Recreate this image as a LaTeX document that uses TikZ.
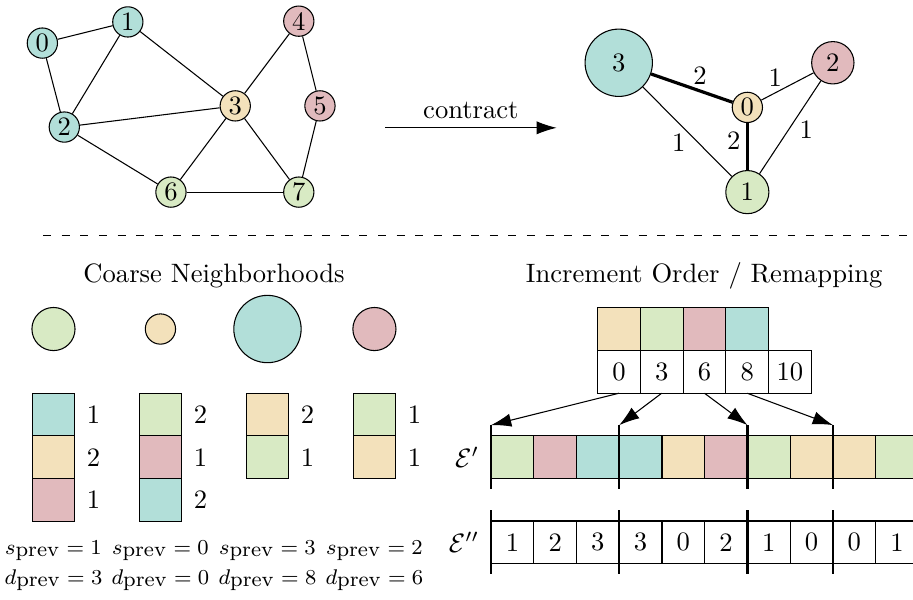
\documentclass[tikz,border=0pt]{standalone}
\usepackage{xcolor}
\usepackage{amsmath,amssymb}
\usepackage{tikz}
\usetikzlibrary{arrows.meta,positioning}
\definecolor{cteal}{HTML}{B2DFD9}
\definecolor{cyel}{HTML}{F3E1BB}
\definecolor{cpink}{HTML}{E1BABD}
\definecolor{cgreen}{HTML}{D8EAC4}

\begin{document}
\begin{tikzpicture}[>={Latex[length=7.6pt,width=5pt]},
 vert/.style={draw,circle,minimum size=0.40cm,inner sep=0pt},
 cell/.style={draw,minimum size=0.565cm,inner sep=0pt,outer sep=0pt},
 wlbl/.style={inner sep=2pt},
 tick/.style={thick},
 heavy/.style={very thick},
 prev/.style={font=\footnotesize,anchor=base}]
\useasboundingbox (0,0) rectangle (12.07,7.92);
\clip (0,0) rectangle (12.07,7.92);
\node[vert,fill=cteal] (v0) at (0.56,7.35) {0};
\node[vert,fill=cteal] (v1) at (1.69,7.63) {1};
\node[vert,fill=cteal] (v2) at (0.85,6.24) {2};
\node[vert,fill=cyel] (v3) at (3.11,6.52) {3};
\node[vert,fill=cpink] (v4) at (3.95,7.64) {4};
\node[vert,fill=cpink] (v5) at (4.23,6.52) {5};
\node[vert,fill=cgreen] (v6) at (2.26,5.38) {6};
\node[vert,fill=cgreen] (v7) at (3.95,5.38) {7};
\draw (v0)--(v1); \draw (v0)--(v2); \draw (v1)--(v2); \draw (v1)--(v3);
\draw (v2)--(v3); \draw (v2)--(v6); \draw (v3)--(v4); \draw (v3)--(v6);
\draw (v3)--(v7); \draw (v4)--(v5); \draw (v5)--(v7); \draw (v6)--(v7);
\coordinate (ca) at (5.09,6.23); \coordinate (cb) at (7.36,6.23);
\draw[->] (ca)--node[above] (ctr) {contract}(cb);
\node[vert,fill=cteal,minimum size=0.89cm] (c3) at (8.18,7.09) {3};
\node[vert,fill=cpink,minimum size=0.56cm] (c2) at (11.01,7.09) {2};
\node[vert,fill=cyel] (c0) at (9.88,6.50) {0};
\node[vert,fill=cgreen,minimum size=0.57cm] (c1) at (9.88,5.38) {1};
\draw[heavy] (c3)--node[wlbl,pos=0.6,above] (w30) {2}(c0);
\draw[heavy] (c0)--node[wlbl,pos=0.38,left] (w01) {2}(c1);
\draw (c0)--node[wlbl,pos=0.27,above] (w02) {1}(c2);
\draw (c3)--node[inner sep=0.5pt,pos=0.5,below left] (w31) {1}(c1);
\draw (c2)--node[inner sep=1pt,pos=0.4,below right] (w21) {1}(c1);
\draw[dash pattern=on 3pt off 4pt] (0.57,4.81)--(11.99,4.81);
\node[anchor=base] (tl) at (2.83,4.18) {Coarse Neighborhoods};
\node[anchor=base] (tr) at (9.31,4.18) {Increment Order / Remapping};
\node[vert,fill=cgreen,minimum size=0.57cm] (g1) at (0.707,3.57) {};
\node[vert,fill=cyel] (g0) at (2.121,3.57) {};
\node[vert,fill=cteal,minimum size=0.89cm] (g3) at (3.536,3.57) {};
\node[vert,fill=cpink,minimum size=0.57cm] (g2) at (4.950,3.57) {};
\node[cell,fill=cteal] (a1) at (0.707,2.44) {};
\node[cell,fill=cyel,below=0pt of a1] (a2) {};
\node[cell,fill=cpink,below=0pt of a2] (a3) {};
\node[cell,fill=cgreen] (b1) at (2.121,2.44) {};
\node[cell,fill=cpink,below=0pt of b1] (b2) {};
\node[cell,fill=cteal,below=0pt of b2] (b3) {};
\node[cell,fill=cyel] (d1) at (3.536,2.44) {};
\node[cell,fill=cgreen,below=0pt of d1] (d2) {};
\node[cell,fill=cgreen] (h1) at (4.950,2.44) {};
\node[cell,fill=cyel,below=0pt of h1] (h2) {};
\node[right=1pt of a1] (ka1) {1}; \node[right=1pt of a2] (ka2) {2}; \node[right=1pt of a3] (ka3) {1};
\node[right=1pt of b1] (kb1) {2}; \node[right=1pt of b2] (kb2) {1}; \node[right=1pt of b3] (kb3) {2};
\node[right=1pt of d1] (kd1) {2}; \node[right=1pt of d2] (kd2) {1};
\node[right=1pt of h1] (kh1) {1}; \node[right=1pt of h2] (kh2) {1};
\node[prev] (sa) at (0.707,0.595) {$s_{\mbox{prev}} = 1$};
\node[prev] (sb) at (2.121,0.595) {$s_{\mbox{prev}} = 0$};
\node[prev] (sd) at (3.536,0.595) {$s_{\mbox{prev}} = 3$};
\node[prev] (sh) at (4.950,0.595) {$s_{\mbox{prev}} = 2$};
\node[prev] (pa) at (0.707,0.198) {$d_{\mbox{prev}} = 3$};
\node[prev] (pb) at (2.121,0.198) {$d_{\mbox{prev}} = 0$};
\node[prev] (pd) at (3.536,0.198) {$d_{\mbox{prev}} = 8$};
\node[prev] (ph) at (4.950,0.198) {$d_{\mbox{prev}} = 6$};
\node[cell,fill=cyel] (o0) at (8.183,3.569) {};
\node[cell,fill=cgreen,right=0pt of o0] (o1) {};
\node[cell,fill=cpink,right=0pt of o1] (o2) {};
\node[cell,fill=cteal,right=0pt of o2] (o3) {};
\node[cell,below=0pt of o0] (n0) {0};
\node[cell,right=0pt of n0] (n1) {3};
\node[cell,right=0pt of n1] (n2) {6};
\node[cell,right=0pt of n2] (n3) {8};
\node[cell,right=0pt of n3] (n4) {10};
\node[cell,fill=cgreen] (e0) at (6.774,1.877) {};
\node[cell,fill=cpink,right=0pt of e0] (e1) {};
\node[cell,fill=cteal,right=0pt of e1] (e2) {};
\node[cell,fill=cteal,right=0pt of e2] (e3) {};
\node[cell,fill=cyel,right=0pt of e3] (e4) {};
\node[cell,fill=cpink,right=0pt of e4] (e5) {};
\node[cell,fill=cgreen,right=0pt of e5] (e6) {};
\node[cell,fill=cyel,right=0pt of e6] (e7) {};
\node[cell,fill=cyel,right=0pt of e7] (e8) {};
\node[cell,fill=cgreen,right=0pt of e8] (e9) {};
\node[cell] (f0) at (6.774,0.75) {1};
\node[cell,right=0pt of f0] (f1) {2};
\node[cell,right=0pt of f1] (f2) {3};
\node[cell,right=0pt of f2] (f3) {3};
\node[cell,right=0pt of f3] (f4) {0};
\node[cell,right=0pt of f4] (f5) {2};
\node[cell,right=0pt of f5] (f6) {1};
\node[cell,right=0pt of f6] (f7) {0};
\node[cell,right=0pt of f7] (f8) {0};
\node[cell,right=0pt of f8] (f9) {1};
\node[left=1pt of e0] (le) {$\mathcal{E}'$};
\node[left=1pt of f0] (lf) {$\mathcal{E}''$};
\draw[tick] ([yshift=1.4mm]e0.north west)--([yshift=-1.4mm]e0.south west);
\draw[tick] ([yshift=1.4mm]e3.north west)--([yshift=-1.4mm]e3.south west);
\draw[tick] ([yshift=1.4mm]e6.north west)--([yshift=-1.4mm]e6.south west);
\draw[tick] ([yshift=1.4mm]e8.north west)--([yshift=-1.4mm]e8.south west);
\draw[tick] ([yshift=1.4mm]f0.north west)--([yshift=-1.4mm]f0.south west);
\draw[tick] ([yshift=1.4mm]f3.north west)--([yshift=-1.4mm]f3.south west);
\draw[tick] ([yshift=1.4mm]f6.north west)--([yshift=-1.4mm]f6.south west);
\draw[tick] ([yshift=1.4mm]f8.north west)--([yshift=-1.4mm]f8.south west);
\draw[->] (n0.south)--([yshift=1.4mm]e0.north west);
\draw[->] (n1.south)--([yshift=1.4mm]e3.north west);
\draw[->] (n2.south)--([yshift=1.4mm]e6.north west);
\draw[->] (n3.south)--([yshift=1.4mm]e8.north west);
\end{tikzpicture}
\end{document}
